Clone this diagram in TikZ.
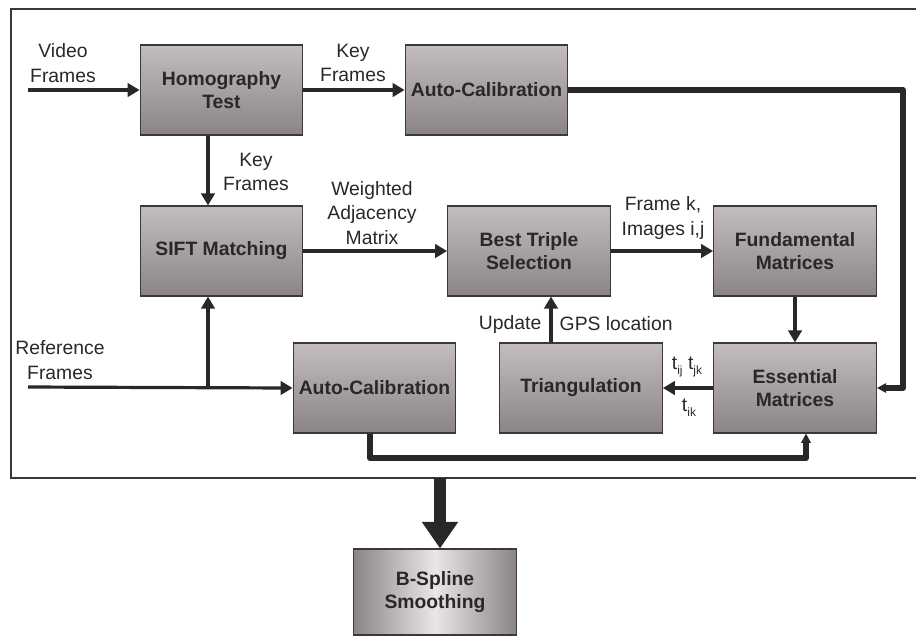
\documentclass[tikz,border=0pt]{standalone}
\usepackage{fontspec}
\setmainfont{Liberation Sans}
\setsansfont{Liberation Sans}
\usetikzlibrary{arrows.meta}

\definecolor{boxedge}{RGB}{60,56,58}
\definecolor{boxtop}{RGB}{196,189,192}
\definecolor{boxmid}{RGB}{236,229,231}
\definecolor{boxlow}{RGB}{138,132,134}
\definecolor{ink}{RGB}{40,40,40}

\tikzset{
  blockbox/.style = {draw = boxedge, line width = 0.8pt, minimum width = 122pt,
    minimum height = 67.5pt, align = center, text = ink,
    font = \fontsize{14.5}{17}\selectfont\bfseries,
    top color = boxtop, middle color = boxmid, bottom color = boxlow},
  flow/.style = {draw = ink, line width = 2.4pt,
    -{Triangle[length = 9pt, width = 10pt]}},
  bus/.style = {draw = ink, line width = 4.5pt, line join = round,
    -{Triangle[length = 7pt, width = 7pt]}},
  lbl/.style = {align = center, text = ink,
    font = \fontsize{14.5}{18.5}\selectfont}
}

\begin{document}
\begin{tikzpicture}[x = 0.75pt, y = -0.75pt]
    \useasboundingbox (0,0) rectangle (916,637);
    % outer frame, open on the right
    \draw[boxedge, line width = 0.8pt] (916,9) -- (11,9) -- (11,478) -- (916,478);

    % blocks
    \node[blockbox] (homog)  at (221.5,90)  {Homography\\Test};
    \node[blockbox] (calibA) at (486.5,90)  {Auto-Calibration};
    \node[blockbox] (sift)   at (221.5,251) {SIFT Matching};
    \node[blockbox] (triple) at (529,251)   {Best Triple\\Selection};
    \node[blockbox] (fund)   at (795,251)   {Fundamental\\Matrices};
    \node[blockbox] (calibB) at (374.5,388) {Auto-Calibration};
    \node[blockbox] (triang) at (581,388)   {Triangulation};
    \node[blockbox] (essen)  at (795,388)   {Essential\\Matrices};
    \node[blockbox, minimum height = 64.5pt,
          left color = boxlow, right color = boxlow, middle color = boxmid]
          (spline) at (435,592) {B-Spline\\Smoothing};

    % helper points
    \coordinate (vin)  at (28,90);
    \coordinate (rin)  at (28,387);
    \coordinate (kf)   at (208,0);
    \coordinate (gps)  at (551,0);
    \coordinate (busR) at (903,90);
    \coordinate (busL) at (370,458);
    \coordinate (busE) at (806,458);
    \coordinate (out)  at (440,478);

    % inputs
    \draw[flow] (vin) -- (homog.west);
    \node[lbl] (vlbl) at (63,63) {Video\\Frames};
    \draw[flow] (rin) -- (calibB.west);
    \draw[flow] (rin -| kf) -- (sift.south -| kf);
    \node[lbl] (rlbl) at (60,360) {Reference\\Frames};

    % key frames
    \draw[flow] (homog) -- (calibA);
    \node[lbl] (kf1) at (353,63) {Key\\Frames};
    \draw[flow] (homog.south -| kf) -- (sift.north -| kf);
    \node[lbl] (kf2) at (256,172) {Key\\Frames};

    % matching chain
    \draw[flow] (sift) -- (triple);
    \node[lbl] (wam) at (372,213) {Weighted\\Adjacency\\Matrix};
    \draw[flow] (triple) -- (fund);
    \node[lbl] (fki) at (663,218) {Frame k,\\Images i,j};
    \draw[flow] (fund) -- (essen);
    \draw[flow] (essen) -- (triang);
    \node[lbl, anchor = south] (tij) at (687,382)
          {t\raisebox{-0.5ex}{\fontsize{9}{9}\selectfont ij} t\raisebox{-0.5ex}{\fontsize{9}{9}\selectfont jk}};
    \node[lbl, anchor = north] (tik) at (689,394)
          {t\raisebox{-0.5ex}{\fontsize{9}{9}\selectfont ik}};
    \draw[flow] (triang.north -| gps) -- (triple.south -| gps);
    \node[lbl, anchor = east] (upd) at (546,324) {Update};
    \node[lbl, anchor = west] (gpsl) at (555,324) {GPS location};

    % calibration buses
    \draw[bus] (calibA.east) -- (busR) |- (essen.east);
    \draw[bus] (calibB.south -| busL) -- (busL) -- (busE) -- (essen.south -| busE);

    % final smoothing
    \draw[draw = ink, line width = 9pt,
          -{Triangle[length = 20pt, width = 26pt]}] (out) -- (spline.north -| out);
\end{tikzpicture}
\end{document}
